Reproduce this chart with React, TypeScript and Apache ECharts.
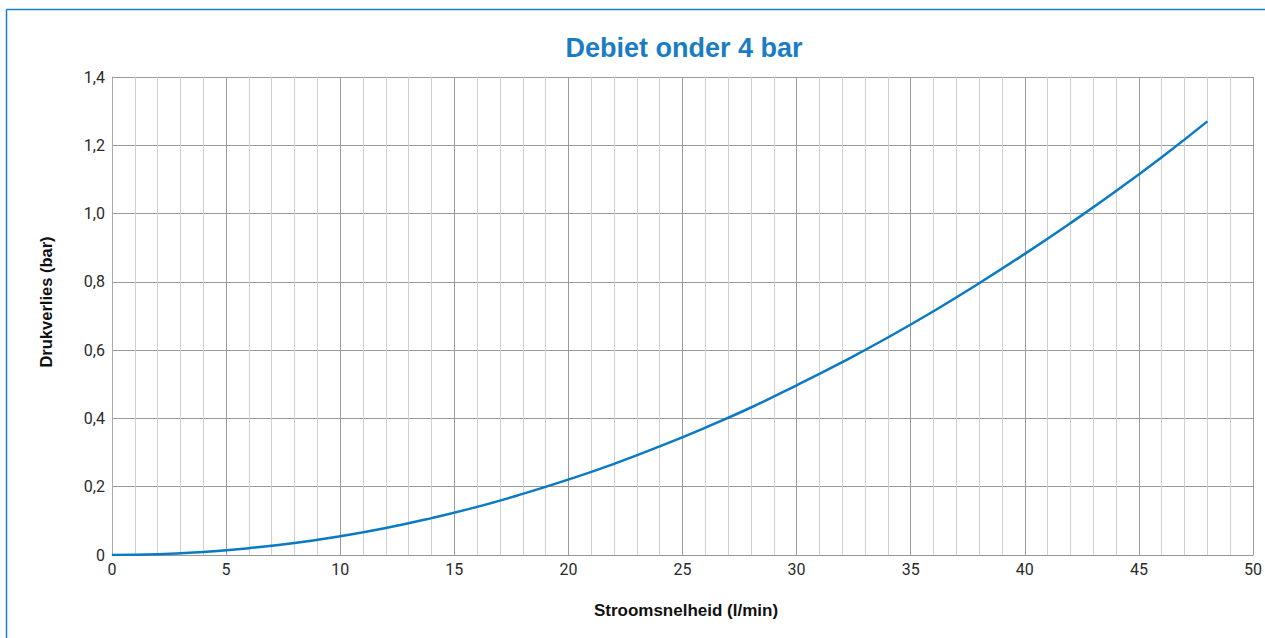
import React, { useEffect, useRef } from "react";
import * as echarts from "echarts";

const flowValues: number[] = [0, 2, 4, 6, 8, 10, 12, 14, 16, 18, 20, 22, 24, 26, 28, 30, 32, 34, 36, 38, 40, 42, 44, 46, 48];
const pressureLoss: number[] = [0, 0.002, 0.009, 0.02, 0.035, 0.055, 0.079, 0.108, 0.141, 0.179, 0.221, 0.267, 0.318, 0.373, 0.432, 0.497, 0.565, 0.637, 0.714, 0.796, 0.882, 0.972, 1.066, 1.165, 1.27];

const titleText = "Debiet onder 4 bar";
const xAxisTitle = "Stroomsnelheid (l/min)";
const yAxisTitle = "Drukverlies (bar)";

const BLUE = "#1a7cc3";

export default function App() {
  const ref = useRef<HTMLDivElement>(null);
  useEffect(() => {
    if (!ref.current) return;
    const chart = echarts.init(ref.current, null, { renderer: "svg" });
    const data = flowValues.map((x, i) => [x, pressureLoss[i]]);
    chart.setOption({
      animation: false,
      backgroundColor: "#ffffff",
      grid: { left: 112, right: 10, top: 77, bottom: 83, containLabel: false },
      xAxis: {
        type: "value",
        min: 0,
        max: 50,
        interval: 5,
        axisLine: { show: true, lineStyle: { color: "#999999", width: 1 } },
        axisTick: { show: false },
        minorTick: { show: false, splitNumber: 5 },
        splitLine: { show: true, lineStyle: { color: "#9a9a9a", width: 1 } },
        minorSplitLine: { show: true, lineStyle: { color: "#cfcfcf", width: 1 } },
        axisLabel: {
          color: "#2a2a2a",
          fontFamily: "Roboto",
          fontSize: 16,
          margin: 6,
        },
      },
      yAxis: {
        type: "value",
        min: 0,
        max: 1.4,
        interval: 0.2,
        axisLine: { show: true, lineStyle: { color: "#aaaaaa", width: 1 } },
        axisTick: { show: false },
        splitLine: { show: true, lineStyle: { color: "#9a9a9a", width: 1 } },
        axisLabel: {
          color: "#2a2a2a",
          fontFamily: "Roboto",
          fontSize: 16,
          margin: 7,
          formatter: (v: number) => (v === 0 ? "0" : v.toFixed(1).replace(".", ",")),
        },
      },
      graphic: [
        {
          type: "line",
          shape: { x1: 6.5, y1: 9.5, x2: 1265, y2: 9.5 },
          style: { stroke: BLUE, lineWidth: 1.5 },
          silent: true,
        },
        {
          type: "line",
          shape: { x1: 6.5, y1: 9.5, x2: 6.5, y2: 638 },
          style: { stroke: BLUE, lineWidth: 1.5 },
          silent: true,
        },
        {
          type: "text",
          x: 684,
          y: 48,
          style: {
            text: titleText,
            font: 'bold 27px "Liberation Sans", Arial, sans-serif',
            fill: BLUE,
            align: "center",
            verticalAlign: "middle",
            textAlign: "center",
            textVerticalAlign: "middle",
          },
        },
        {
          type: "text",
          x: 686,
          y: 610,
          style: {
            text: xAxisTitle,
            font: 'bold 17px "Liberation Sans", Arial, sans-serif',
            fill: "#111111",
            align: "center",
            verticalAlign: "middle",
            textAlign: "center",
            textVerticalAlign: "middle",
          },
        },
        {
          type: "text",
          x: 46,
          y: 302,
          rotation: Math.PI / 2,
          style: {
            text: yAxisTitle,
            font: 'bold 16.5px "Liberation Sans", Arial, sans-serif',
            fill: "#111111",
            align: "center",
            verticalAlign: "middle",
            textAlign: "center",
            textVerticalAlign: "middle",
          },
        },
      ],
      series: [
        {
          type: "line",
          data,
          smooth: true,
          showSymbol: false,
          symbol: "none",
          lineStyle: { color: "#0a7ac4", width: 2.5 },
          z: 5,
        },
      ],
    });
    return () => chart.dispose();
  }, []);
  return (
    <div
      ref={ref}
      style={{ position: "fixed", left: 0, top: 0, width: 1265, height: 638, background: "#fff" }}
    />
  );
}
